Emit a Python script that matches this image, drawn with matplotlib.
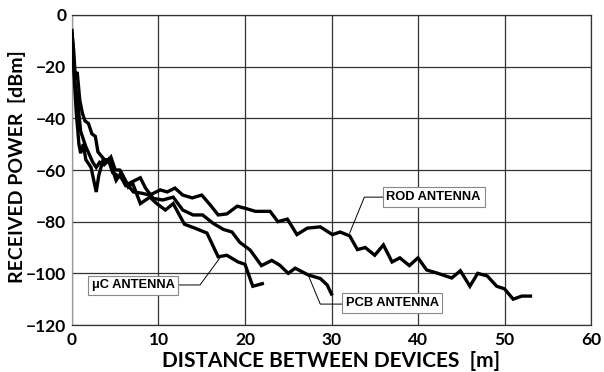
import matplotlib.pyplot as plt

# ROD antenna
rod_x = [0, 0.2, 0.4, 0.6, 0.9, 1.2, 1.5, 1.9, 2.3, 2.7, 3.0, 3.5, 4.0, 4.5, 5.0, 5.5, 6.0, 6.5,
         7.1, 8.1, 9.0, 10.2, 11.0, 11.9, 12.8, 13.9, 15.0, 16.0, 16.9, 17.9, 19.1, 20.2, 21.2,
         22.9, 23.8, 24.9, 26.0, 27.2, 28.7, 30.1, 31.0, 32.1, 33.0, 33.9, 35.0, 36.0, 37.0,
         37.9, 39.0, 40.0, 41.0, 42.3, 43.9, 44.9, 46.0, 46.9, 48.0, 49.1, 50.0, 51.0, 52.0, 53.0]
rod_y = [-7, -14, -25, -22, -33, -38, -41, -42, -46, -47, -53, -55, -57, -55, -60, -60, -63, -66,
         -68.5, -69, -69.7, -67.7, -68.5, -67, -69.7, -70.8, -69.7, -73.6, -77.4, -77, -74, -75,
         -76, -76, -80, -79, -85, -82.5, -82, -85, -84, -85.5, -90.8, -90, -93, -89, -95.6,
         -94, -97, -94, -98.7, -100, -101.8, -99, -105, -100, -101, -105, -106, -110, -108.8, -108.8]

# PCB antenna
pcb_x = [0, 0.2, 0.4, 0.7, 1.0, 1.3, 1.6, 2.0, 2.4, 2.8, 3.2, 3.7, 4.2, 4.7, 5.2, 5.7, 6.2, 6.7,
         7.3, 7.9, 8.5, 9.4, 10.5, 11.7, 12.8, 14.0, 15.1, 16.3, 17.5, 18.5, 19.4, 20.6, 21.9,
         23.1, 24.0, 25.0, 25.8, 27.3, 28.7, 29.5, 30.0]
pcb_y = [-8, -20, -28, -35, -45, -48, -51, -54, -57, -59, -57, -58, -56, -61, -62, -63, -66, -65,
         -64, -63, -67, -71, -71.6, -70.5, -75.5, -77.4, -77.4, -80.6, -83, -84, -88, -91, -97,
         -95, -96.8, -100, -98, -100.6, -102, -104.5, -108]

# uC antenna
uc_x = [0, 0.15, 0.3, 0.5, 0.8, 1.0, 1.3, 1.6, 2.2, 2.8, 3.1, 3.6, 4.3, 5.1, 5.7, 6.5, 7.0, 7.9,
        9.0, 9.8, 10.8, 11.7, 13.0, 14.2, 15.6, 16.9, 17.9, 19.2, 20.0, 20.9, 22.0]
uc_y = [-6, -15, -27, -38, -50, -53.5, -50, -56, -59, -68.5, -62, -56, -56, -64, -61, -66.6, -65, -73,
        -70.5, -73, -75.5, -73, -81, -82.5, -84.4, -93.6, -93, -95.6, -96.5, -105, -104]

labels = ["ROD ANTENNA", "PCB ANTENNA", "\u03bcC ANTENNA"]
label_pos = [(41.8, -70.5), (37.0, -111.5), (7.05, -104.7)]
leader = [[(36.2, -70.5), (33.8, -70.5), (32.1, -84.4)],
          [(31.2, -111.9), (28.7, -111.9), (27.3, -100.6)],
          [(12.3, -104.5), (14.8, -104.5), (17.1, -94.0)]]

fig = plt.figure(figsize=(6.04, 3.72), dpi=100)
ax = fig.add_axes([0.1192, 0.1263, 0.8593, 0.8334])

for xs, ys in [(rod_x, rod_y), (pcb_x, pcb_y), (uc_x, uc_y)]:
    ax.plot(xs, ys, color='black', linewidth=2.4, solid_joinstyle='miter', zorder=3)

for pts in leader:
    ax.plot([p[0] for p in pts], [p[1] for p in pts], color='black', linewidth=0.7, zorder=4)

for text, (lx, ly) in zip(labels, label_pos):
    ax.text(lx, ly, text, ha='center', va='center', fontsize=9.3, fontweight='bold',
            family='Liberation Sans', zorder=5,
            bbox=dict(boxstyle='square,pad=0.3', facecolor='white', edgecolor='#888888', linewidth=0.8))

ax.set_xlim(0, 60)
ax.set_ylim(-120, 0)
ax.set_xticks(range(0, 61, 10))
ax.set_yticks(range(-120, 1, 20))
ax.grid(True, color='#333333', linewidth=0.9, zorder=0)
ax.set_axisbelow(True)
ax.tick_params(axis='y', length=0, pad=4, labelsize=12.5)
ax.tick_params(axis='x', length=0, pad=5, labelsize=12.5)
for lab in ax.get_xticklabels() + ax.get_yticklabels():
    lab.set_fontweight('bold')
    lab.set_family('Lato')
for s in ax.spines.values():
    s.set_color('#333333')
    s.set_linewidth(0.9)
ax.spines['left'].set_color('#999999')

ax.set_xlabel('DISTANCE BETWEEN DEVICES  [m]', fontsize=15, fontweight='bold', family='Lato', labelpad=2)
fig.text(17 / 604, 1 - 167 / 372, 'RECEIVED POWER  [dBm]', rotation=90, ha='center', va='center',
         fontsize=14, fontweight='bold', family='Lato')

fig.savefig('out.png', dpi=100)
